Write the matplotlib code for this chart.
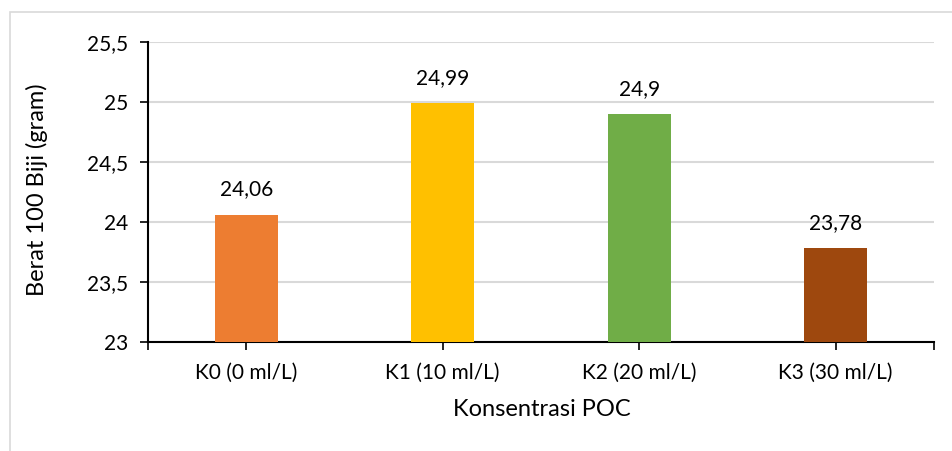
import matplotlib.pyplot as plt
from matplotlib.patches import Rectangle
from matplotlib.ticker import FuncFormatter

categories = ["K0 (0 ml/L)", "K1 (10 ml/L)", "K2 (20 ml/L)", "K3 (30 ml/L)"]
values = [24.06, 24.99, 24.9, 23.78]
colors = ["#ED7D31", "#FFC000", "#70AD47", "#9E480E"]

plt.rcParams['font.family'] = ['Lato', 'DejaVu Sans']


def comma(v):
    return ("%g" % v).replace(".", ",")


fig = plt.figure(figsize=(9.53, 4.51), dpi=100)
# outer chart frame
fig.patches.append(Rectangle((10 / 953, -0.2), 1.2, 1.2 - 12 / 451,
                             transform=fig.transFigure, fill=False,
                             edgecolor="#D9D9D9", linewidth=1.2))

ax = fig.add_axes([148 / 953, 1 - 342 / 451, (934 - 148) / 953, 300 / 451])
x = range(len(categories))
ax.bar(x, [v - 23 for v in values], bottom=23, width=0.32, color=colors, zorder=3)
for i, v in enumerate(values):
    ax.annotate(comma(v), (i, v), xytext=(0, 11), textcoords="offset points",
                ha="center", va="bottom", fontsize=15)

ax.set_ylim(23, 25.5)
ax.set_xlim(-0.5, 3.5)
ax.set_yticks([23, 23.5, 24, 24.5, 25, 25.5])
ax.yaxis.set_major_formatter(FuncFormatter(lambda v, p: comma(v)))
ax.set_xticks(list(x))
ax.set_xticklabels(categories)
ax.set_xticks([-0.5, 3.5], minor=True)
ax.tick_params(axis="both", labelsize=15, length=6, width=1.2, color="black")
ax.tick_params(axis="x", which="minor", length=6, width=1.2)
ax.tick_params(axis="x", pad=9)
ax.tick_params(axis="y", pad=8)
ax.grid(axis="y", color="#D9D9D9", linewidth=1.5, zorder=0)
for s in ["top", "right"]:
    ax.spines[s].set_visible(False)
ax.spines["left"].set_linewidth(1.5)
ax.spines["bottom"].set_linewidth(1.5)

fig.text(37 / 953, 1 - 190 / 451, "Berat 100 Biji (gram)", rotation=90,
         ha="center", va="center", fontsize=17)
fig.text(542 / 953, 1 - 410 / 451, "Konsentrasi POC",
         ha="center", va="center", fontsize=17)

fig.savefig("out.png", dpi=100)
